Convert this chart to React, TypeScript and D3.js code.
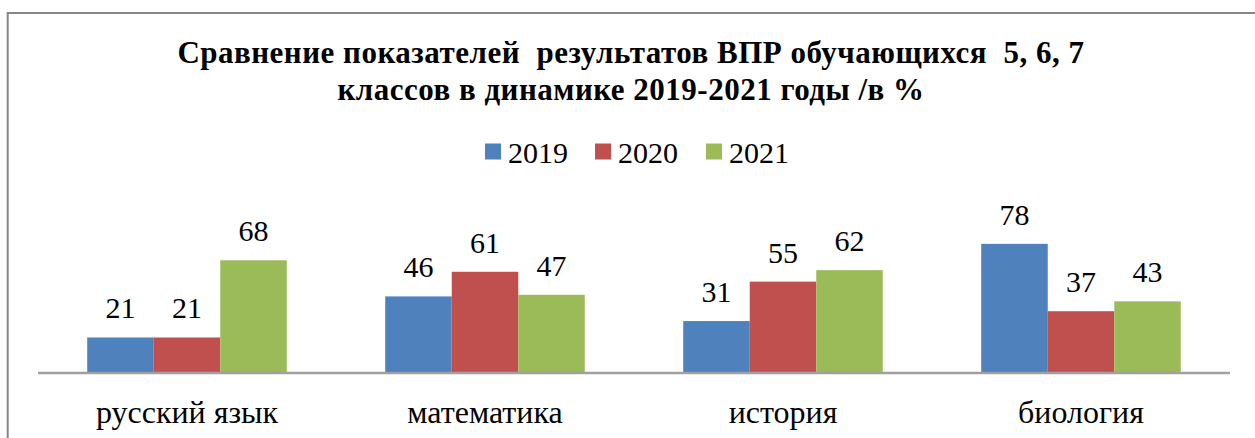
import React from "react";
import * as d3 from "d3";

const categories = ["русский язык", "математика", "история", "биология"];
const seriesNames = ["2019", "2020", "2021"];
const values2019 = [21, 46, 31, 78];
const values2020 = [21, 61, 55, 37];
const values2021 = [68, 47, 62, 43];
const seriesColors = ["#4F81BD", "#C0504D", "#9BBB59"];
const titleLines = [
  "Сравнение показателей  результатов ВПР обучающихся  5, 6, 7",
  "классов в динамике 2019-2021 годы /в %",
];

const W = 1255;
const H = 438;
const FONT = '"Liberation Serif", Tinos, "Times New Roman", Times, "DejaVu Serif", serif';

export default function App() {
  const seriesValues = [values2019, values2020, values2021];
  const x0 = d3.scaleBand<string>().domain(categories).range([38, 1230]).padding(0);
  const x1 = d3
    .scaleBand<string>()
    .domain(seriesNames)
    .range([0, x0.bandwidth()])
    .paddingInner(0)
    .paddingOuter(0.74);
  const y = d3.scaleLinear().domain([0, 100]).range([372, 207.7]);

  const legendX = [485, 595, 706];
  const txt: React.CSSProperties = { fontFamily: FONT };

  return (
    <div style={{ position: "absolute", left: 0, top: 0 }}>
      <svg width={W} height={H} style={{ display: "block", background: "#fff", fontFamily: FONT }}>
        <rect x={7.7} y={13} width={W + 20} height={H + 20} fill="none" stroke="#868686" strokeWidth={2} />
        {titleLines.map((t, i) => (
          <text
            key={i}
            x={631}
            y={63 + i * 37}
            textAnchor="middle"
            fontWeight="bold"
            fontSize={31}
            letterSpacing={0.5}
            style={{ ...txt, whiteSpace: "pre" }}
          >
            {t}
          </text>
        ))}
        {seriesNames.map((s, i) => (
          <g key={s}>
            <rect x={legendX[i]} y={143.5} width={16} height={16} fill={seriesColors[i]} />
            <text x={legendX[i] + 23} y={163} fontSize={30} fill="#000" style={txt}>
              {s}
            </text>
          </g>
        ))}
        {categories.map((c, ci) => (
          <g key={c} transform={`translate(${x0(c)},0)`}>
            {seriesNames.map((s, si) => {
              const v = seriesValues[si][ci];
              const bx = x1(s)!;
              const bw = x1.bandwidth();
              return (
                <g key={s}>
                  <rect x={bx} y={y(v)} width={bw} height={y(0) - y(v)} fill={seriesColors[si]} />
                  <text
                    x={bx + bw / 2}
                    y={y(v) - 19}
                    textAnchor="middle"
                    fontSize={30}
                    fill="#000"
                    style={txt}
                  >
                    {v}
                  </text>
                </g>
              );
            })}
            <text
              x={x0.bandwidth() / 2}
              y={423}
              textAnchor="middle"
              fontSize={32}
              fill="#000"
              style={txt}
            >
              {c}
            </text>
          </g>
        ))}
        <line x1={38} x2={1230} y1={373} y2={373} stroke="#A0A0A0" strokeWidth={2.5} />
      </svg>
    </div>
  );
}
